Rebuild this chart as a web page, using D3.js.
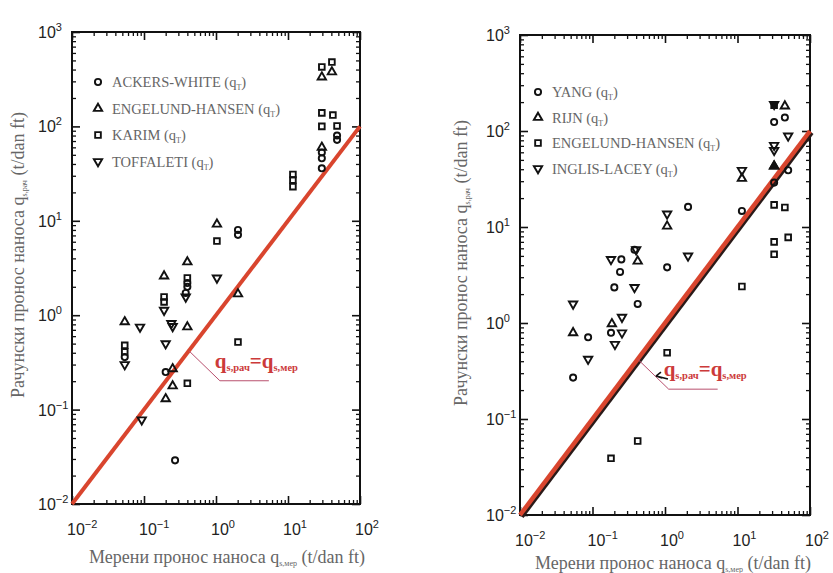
<!DOCTYPE html>
<html lang="sr">
<head>
<meta charset="UTF-8">
<title>Рачунски и мерени пронос наноса</title>
<script src="https://cdn.jsdelivr.net/npm/d3@7/dist/d3.min.js"></script>
<style>
  body { margin: 0; background: #fff; }
  svg { display: block; }
</style>
</head>
<body>
<svg id="chart" width="833" height="573"></svg>
<script>
// [мерени, рачунски] in t/dan ft -- left panel
const ackersWhite = [[0.054, 0.36], [0.20, 0.25], [0.27, 0.029], [0.40, 2.19], [0.40, 2.0], [0.38, 1.72],
  [2.02, 8.0], [2.02, 7.1], [29.5, 36], [29.5, 46], [29.5, 53], [48, 72], [48, 80]]
const engelundLeft = [[0.054, 0.85], [0.19, 2.6], [0.40, 3.66], [0.40, 0.75], [0.25, 0.27], [0.25, 0.178],
  [0.20, 0.13], [1.03, 9.2], [2.02, 1.68], [29.5, 333], [40.7, 377], [29.5, 60]]
const karim = [[0.054, 0.48], [0.054, 0.41], [0.19, 1.56], [0.19, 1.38], [0.40, 2.48], [0.40, 0.19],
  [1.03, 6.1], [2.02, 0.52], [11.7, 31], [11.7, 27], [11.7, 23], [29.5, 426], [40.7, 481],
  [29.5, 139], [42, 132], [29.5, 100], [48, 101]]
const toffaleti = [[0.054, 0.30], [0.088, 0.75], [0.093, 0.078], [0.19, 1.13], [0.20, 0.50],
  [0.24, 0.82], [0.25, 0.76], [0.38, 1.56], [1.03, 2.48]]

// right panel
const yang = [[2.08, 16.2], [0.38, 5.8], [0.25, 4.6], [0.24, 3.4], [1.07, 3.8], [0.20, 2.35],
  [0.42, 1.58], [0.18, 0.79], [0.087, 0.71], [0.054, 0.27], [11.5, 14.7], [32, 124], [45, 138],
  [50, 39], [32, 29]]
const rijn = [[1.07, 10.2], [0.42, 4.4], [0.185, 0.98], [0.054, 0.79], [11.5, 32], [45, 182], [32, 43]]
const engelundRight = [[11.5, 2.4], [1.07, 0.49], [0.42, 0.059], [0.18, 0.039], [32, 17], [45, 16],
  [50, 7.8], [32, 7.0], [32, 5.2]]
const inglisLacey = [[1.07, 13.7], [0.40, 5.8], [0.18, 4.6], [2.08, 5.0], [0.38, 2.35], [0.054, 1.58],
  [0.255, 1.15], [0.255, 0.79], [0.204, 0.60], [0.087, 0.42], [11.5, 39], [32, 71], [32, 63],
  [50, 89], [32, 190]]

const xExponents = [-2, -1, 0, 1, 2]
const yExponents = [-2, -1, 0, 1, 2, 3]
const leftNames = ['ACKERS-WHITE', 'ENGELUND-HANSEN', 'KARIM', 'TOFFALETI']
const rightNames = ['YANG', 'RIJN', 'ENGELUND-HANSEN', 'INGLIS-LACEY']

const svg = d3.select('#chart')
const serif = '"Liberation Serif", "DejaVu Serif", serif'
const sans = '"Liberation Sans", Arial, sans-serif'
const gray = '#666'

const shapes = {
  circle: { type: d3.symbolCircle, size: 30, rot: 0 },
  up: { type: d3.symbolTriangle, size: 30, rot: 0 },
  square: { type: d3.symbolSquare, size: 32, rot: 0 },
  down: { type: d3.symbolTriangle, size: 30, rot: 180 }
}

function marker(g, shape, px, py, filled) {
  const s = shapes[shape]
  g.append('path')
    .attr('d', d3.symbol().type(s.type).size(s.size)())
    .attr('transform', `translate(${px},${py}) rotate(${s.rot})`)
    .attr('fill', filled ? '#111' : 'none')
    .attr('stroke', '#111')
    .attr('stroke-width', 1.9)
}

function drawPanel(p) {
  const g = svg.append('g')
  const x = d3.scaleLog().domain([1e-2, 1e2]).range([p.left, p.right])
  const y = d3.scaleLog().domain([1e-2, 1e3]).range([p.bottom, p.top])

  const xMinor = x.ticks().filter(v => !xExponents.some(e => Math.abs(Math.log10(v) - e) < 1e-6))
  const yMinor = y.ticks().filter(v => !yExponents.some(e => Math.abs(Math.log10(v) - e) < 1e-6))
  const xMajor = xExponents.map(e => Math.pow(10, e))
  const yMajor = yExponents.map(e => Math.pow(10, e))

  const axes = [
    [d3.axisBottom(x), `translate(0,${p.bottom})`, xMajor, xMinor],
    [d3.axisTop(x), `translate(0,${p.top})`, xMajor, xMinor],
    [d3.axisLeft(y), `translate(${p.left},0)`, yMajor, yMinor],
    [d3.axisRight(y), `translate(${p.right},0)`, yMajor, yMinor]
  ]
  axes.forEach(([ax, tr, major, minor]) => {
    g.append('g').attr('transform', tr)
      .call(ax.tickValues(minor).tickSize(-4).tickFormat(''))
      .call(a => a.select('.domain').remove())
      .selectAll('line').attr('stroke', '#111').attr('stroke-width', 1.3)
    g.append('g').attr('transform', tr)
      .call(ax.tickValues(major).tickSize(-8).tickFormat(''))
      .call(a => a.select('.domain').remove())
      .selectAll('line').attr('stroke', '#111').attr('stroke-width', 1.6)
  })

  g.append('rect')
    .attr('x', p.left).attr('y', p.top)
    .attr('width', p.right - p.left).attr('height', p.bottom - p.top)
    .attr('fill', 'none').attr('stroke', '#111').attr('stroke-width', 2)

  // tick labels 10^n
  xExponents.forEach(e => {
    const t = g.append('text').attr('x', x(Math.pow(10, e)) - 5).attr('y', p.bottom + 31)
      .attr('font-family', sans).attr('font-size', 16).attr('fill', '#222')
    t.append('tspan').text('10')
    t.append('tspan').attr('font-size', 11).attr('dy', -7).text(e < 0 ? '\u2212' + (-e) : e)
  })
  yExponents.forEach(e => {
    const t = g.append('text').attr('x', p.left - 34).attr('y', y(Math.pow(10, e)) + 6)
      .attr('font-family', sans).attr('font-size', 16).attr('fill', '#222')
    t.append('tspan').text('10')
    t.append('tspan').attr('font-size', 11).attr('dy', -7).text(e < 0 ? '\u2212' + (-e) : e)
  })

  // 1:1 line
  if (p.shadow) {
    g.append('line')
      .attr('x1', x(1e-2) + 1.5).attr('y1', y(1e-2) + 1.5)
      .attr('x2', x(1e2) + 1.5).attr('y2', y(1e2) + 1.5)
      .attr('stroke', '#2a1a18').attr('stroke-width', 5)
  }
  g.append('line')
    .attr('x1', x(1e-2)).attr('y1', y(1e-2))
    .attr('x2', x(1e2)).attr('y2', y(1e2))
    .attr('stroke', '#d9452e').attr('stroke-width', p.shadow ? 4.5 : 4)

  // points
  p.series.forEach(s => {
    s.data.forEach(d => marker(g, s.shape, x(d[0]), y(d[1]), false))
  })
  ;(p.filled || []).forEach(f => marker(g, f.shape, x(f.d[0]), y(f.d[1]), true))

  // legend
  p.series.forEach((s, i) => {
    const ly = p.legendY + i * p.legendStep
    marker(g, s.shape, p.legendX, ly, false)
    const t = g.append('text').attr('x', p.legendX + 14).attr('y', ly + 5)
      .attr('font-family', serif).attr('font-size', 14.5).attr('fill', gray)
    t.append('tspan').text(s.name + ' (q')
    t.append('tspan').attr('font-size', 8).attr('dy', 3).text('T')
    t.append('tspan').attr('dy', -3).text(')')
  })

  // leader + label q_s,рач = q_s,мер
  const lx = x(p.leaderAt), ly = y(p.leaderAt)
  g.append('polyline')
    .attr('points', `${lx},${ly} ${lx + 31},${ly + 30} ${lx + 80},${ly + 30}`)
    .attr('fill', 'none').attr('stroke', '#b8506e').attr('stroke-width', 1)
  const q = g.append('text').attr('x', lx + 26).attr('y', ly + 17)
    .attr('font-family', serif).attr('font-weight', 'bold').attr('font-size', 21).attr('fill', '#cc3a3a')
  q.append('tspan').text('q')
  q.append('tspan').attr('font-size', 10.5).attr('dy', 3).text('s,рач')
  q.append('tspan').attr('dy', -3).text('=q')
  q.append('tspan').attr('font-size', 10.5).attr('dy', 3).text('s,мер')

  // axis titles
  const xt = g.append('text').attr('x', p.xTitle[0]).attr('y', p.xTitle[1])
    .attr('text-anchor', 'middle').attr('font-family', serif).attr('font-size', 18).attr('fill', gray)
  xt.append('tspan').text('Мерени пронос наноса q')
  xt.append('tspan').attr('font-size', 8).attr('dy', 3).text('s,мер')
  xt.append('tspan').attr('dy', -3).text(' (t/dan ft)')

  const yt = g.append('text')
    .attr('transform', `translate(${p.yTitle[0]},${p.yTitle[1]}) rotate(-90)`)
    .attr('text-anchor', 'middle').attr('font-family', serif).attr('font-size', 18).attr('fill', gray)
  yt.append('tspan').text('Рачунски пронос наноса q')
  yt.append('tspan').attr('font-size', 8).attr('dy', 3).text('s,рач')
  yt.append('tspan').attr('dy', -3).text(' (t/dan ft)')

  return { x, y, g }
}

drawPanel({
  left: 72, right: 360, top: 32, bottom: 504,
  series: [
    { name: leftNames[0], shape: 'circle', data: ackersWhite },
    { name: leftNames[1], shape: 'up', data: engelundLeft },
    { name: leftNames[2], shape: 'square', data: karim },
    { name: leftNames[3], shape: 'down', data: toffaleti }
  ],
  legendX: 98, legendY: 82, legendStep: 26.5,
  leaderAt: 0.42,
  xTitle: [227, 563], yTitle: [24, 255]
})

const right = drawPanel({
  left: 520, right: 810, top: 35, bottom: 515, shadow: true,
  series: [
    { name: rightNames[0], shape: 'circle', data: yang },
    { name: rightNames[1], shape: 'up', data: rijn },
    { name: rightNames[2], shape: 'square', data: engelundRight },
    { name: rightNames[3], shape: 'down', data: inglisLacey }
  ],
  filled: [{ shape: 'up', d: [32, 43] }, { shape: 'square', d: [32, 186] }],
  legendX: 538, legendY: 92, legendStep: 25.5,
  leaderAt: 0.42,
  xTitle: [673, 569], yTitle: [467, 263]
})

// small hand-drawn arrow pointing at the 1:1 line (right panel)
const ax0 = right.x(0.75), ay0 = right.y(0.28)
right.g.append('path')
  .attr('d', `M${ax0 + 12},${ay0 + 3} L${ax0},${ay0} M${ax0},${ay0} l5,-4 M${ax0},${ay0} l6,2`)
  .attr('fill', 'none').attr('stroke', '#111').attr('stroke-width', 1.6)
</script>
</body>
</html>
